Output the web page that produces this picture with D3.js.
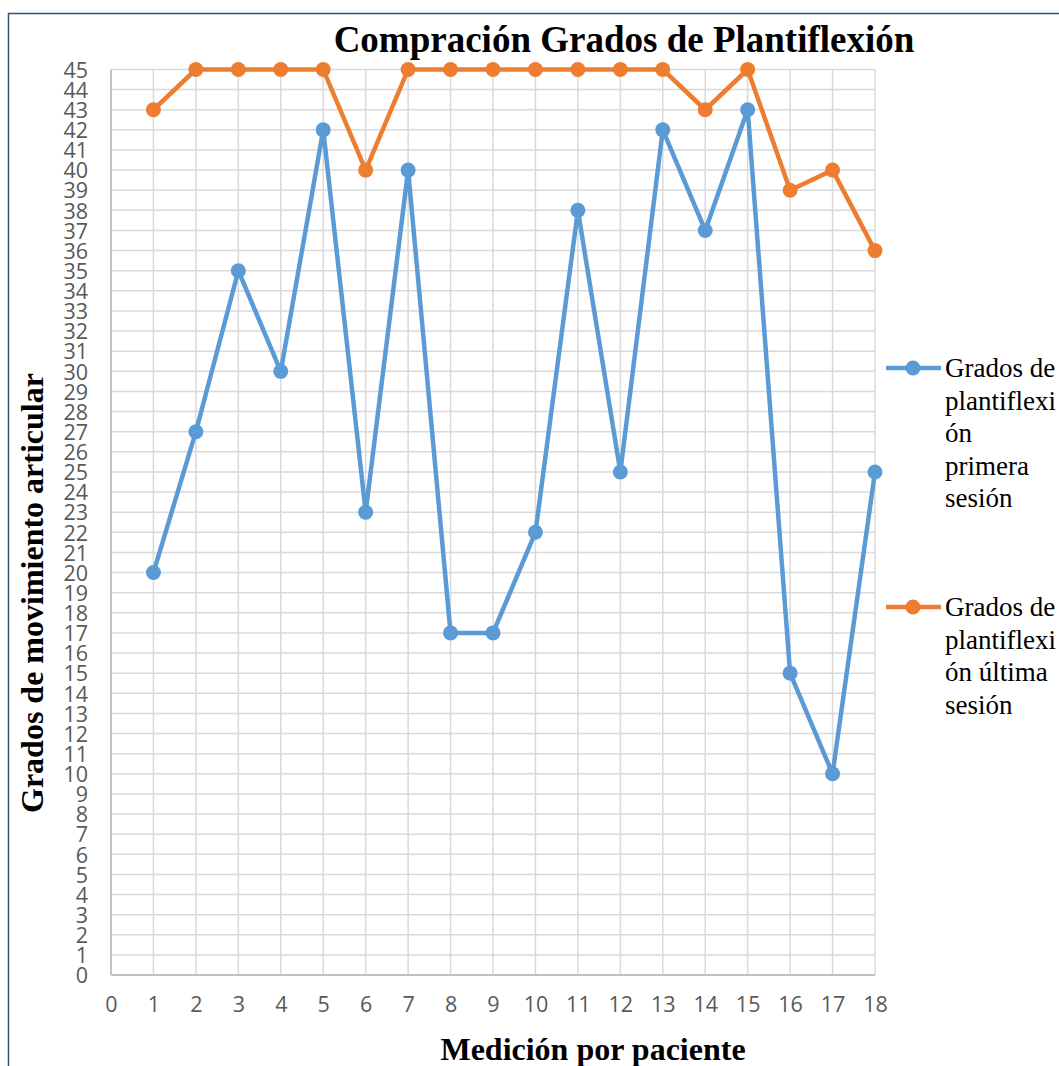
<!DOCTYPE html>
<html>
<head>
<meta charset="utf-8">
<script src="https://cdn.jsdelivr.net/npm/d3@7"></script>
<style>
  html, body { margin: 0; padding: 0; background: #fff; }
  svg { display: block; }
</style>
</head>
<body>
<svg id="chart" width="1059" height="1066"></svg>
<script>
// Patients measured (x positions) and axis ticks
const patients = [1, 2, 3, 4, 5, 6, 7, 8, 9, 10, 11, 12, 13, 14, 15, 16, 17, 18];
const xTicks = d3.range(0, 19);
const yTicks = d3.range(0, 46);

// Plantarflexion degrees per patient
const firstSession = [20, 27, 35, 30, 42, 23, 40, 17, 17, 22, 38, 25, 42, 37, 43, 15, 10, 25];
const lastSession  = [43, 45, 45, 45, 45, 40, 45, 45, 45, 45, 45, 45, 45, 43, 45, 39, 40, 36];

const seriesNames = [
  ["Grados de", "plantiflexi", "ón", "primera", "sesión"],
  ["Grados de", "plantiflexi", "ón última", "sesión"]
];
const colors = ["#5b9bd5", "#ed7d31"];

const svg = d3.select("#chart");
const serif = "'Liberation Serif', 'Times New Roman', serif";
const sans = "'Open Sans', Carlito, 'Liberation Sans', sans-serif";

// Outer frame
svg.append("path")
  .attr("d", "M8.5,1066 L8.5,13.5 L1059,13.5")
  .attr("fill", "none").attr("stroke", "#2e5278").attr("stroke-width", 1.5);

const x = d3.scaleLinear().domain([0, 18]).range([111, 875]);
const y = d3.scaleLinear().domain([0, 45]).range([975, 69.5]);

// Gridlines
const grid = svg.append("g");
grid.selectAll("line.h").data(yTicks).join("line")
  .attr("x1", x(0)).attr("x2", x(18))
  .attr("y1", d => y(d)).attr("y2", d => y(d))
  .attr("stroke", "#d9d9d9").attr("stroke-width", 1.5);
grid.selectAll("line.v").data(xTicks).join("line")
  .attr("y1", y(0)).attr("y2", y(45))
  .attr("x1", d => x(d)).attr("x2", d => x(d))
  .attr("stroke", "#d9d9d9").attr("stroke-width", 1.5);

// Axes lines
svg.append("line").attr("x1", x(0)).attr("x2", x(18)).attr("y1", y(0)).attr("y2", y(0))
  .attr("stroke", "#bfbfbf").attr("stroke-width", 1.8);
svg.append("line").attr("x1", x(0)).attr("x2", x(0)).attr("y1", y(0)).attr("y2", y(45))
  .attr("stroke", "#bfbfbf").attr("stroke-width", 1.8);

// Axis tick labels
const yAxis = d3.axisLeft(y).tickValues(yTicks).tickSize(0).tickPadding(0);
const gy = svg.append("g").attr("transform", `translate(${x(0) - 23},0)`).call(yAxis);
gy.select(".domain").remove();
gy.selectAll("text").attr("font-family", sans).attr("font-size", 21.5).attr("fill", "#595959")
  .attr("dy", "0.36em");

const xAxis = d3.axisBottom(x).tickValues(xTicks).tickSize(0).tickPadding(0);
const gx = svg.append("g").attr("transform", `translate(0,${y(0) + 22})`).call(xAxis);
gx.select(".domain").remove();
gx.selectAll("text").attr("font-family", sans).attr("font-size", 21.5).attr("fill", "#595959")
  .attr("dy", "0.71em");

// Series lines and markers
[firstSession, lastSession].forEach((vals, i) => {
  const pts = patients.map((p, j) => [p, vals[j]]);
  const line = d3.line().x(d => x(d[0])).y(d => y(d[1]));
  const g = svg.append("g");
  g.append("path").datum(pts).attr("d", line)
    .attr("fill", "none").attr("stroke", colors[i]).attr("stroke-width", 4.5)
    .attr("stroke-linejoin", "round");
  g.selectAll("circle").data(pts).join("circle")
    .attr("cx", d => x(d[0])).attr("cy", d => y(d[1])).attr("r", 7.5)
    .attr("fill", colors[i]);
});

// Title
svg.append("text").attr("x", 624).attr("y", 52).attr("text-anchor", "middle")
  .attr("font-family", serif).attr("font-weight", "bold").attr("font-size", 37)
  .text("Compración Grados de Plantiflexión");

// Axis titles
svg.append("text").attr("transform", "translate(43,593) rotate(-90)")
  .attr("text-anchor", "middle").attr("font-family", serif).attr("font-weight", "bold")
  .attr("font-size", 32).text("Grados de movimiento articular");
svg.append("text").attr("x", 593).attr("y", 1060).attr("text-anchor", "middle")
  .attr("font-family", serif).attr("font-weight", "bold").attr("font-size", 32)
  .text("Medición por paciente");

// Legend
const legendTops = [368, 607];
seriesNames.forEach((lines, i) => {
  const g = svg.append("g");
  const ly = legendTops[i];
  g.append("line").attr("x1", 886).attr("x2", 941).attr("y1", ly).attr("y2", ly)
    .attr("stroke", colors[i]).attr("stroke-width", 4.5);
  g.append("circle").attr("cx", 913).attr("cy", ly).attr("r", 7.5).attr("fill", colors[i]);
  g.selectAll("text").data(lines).join("text")
    .attr("x", 945).attr("y", (d, k) => ly + 9 + k * 32.5)
    .attr("font-family", serif).attr("font-size", 27).attr("fill", "#000")
    .text(d => d);
});
</script>
</body>
</html>
